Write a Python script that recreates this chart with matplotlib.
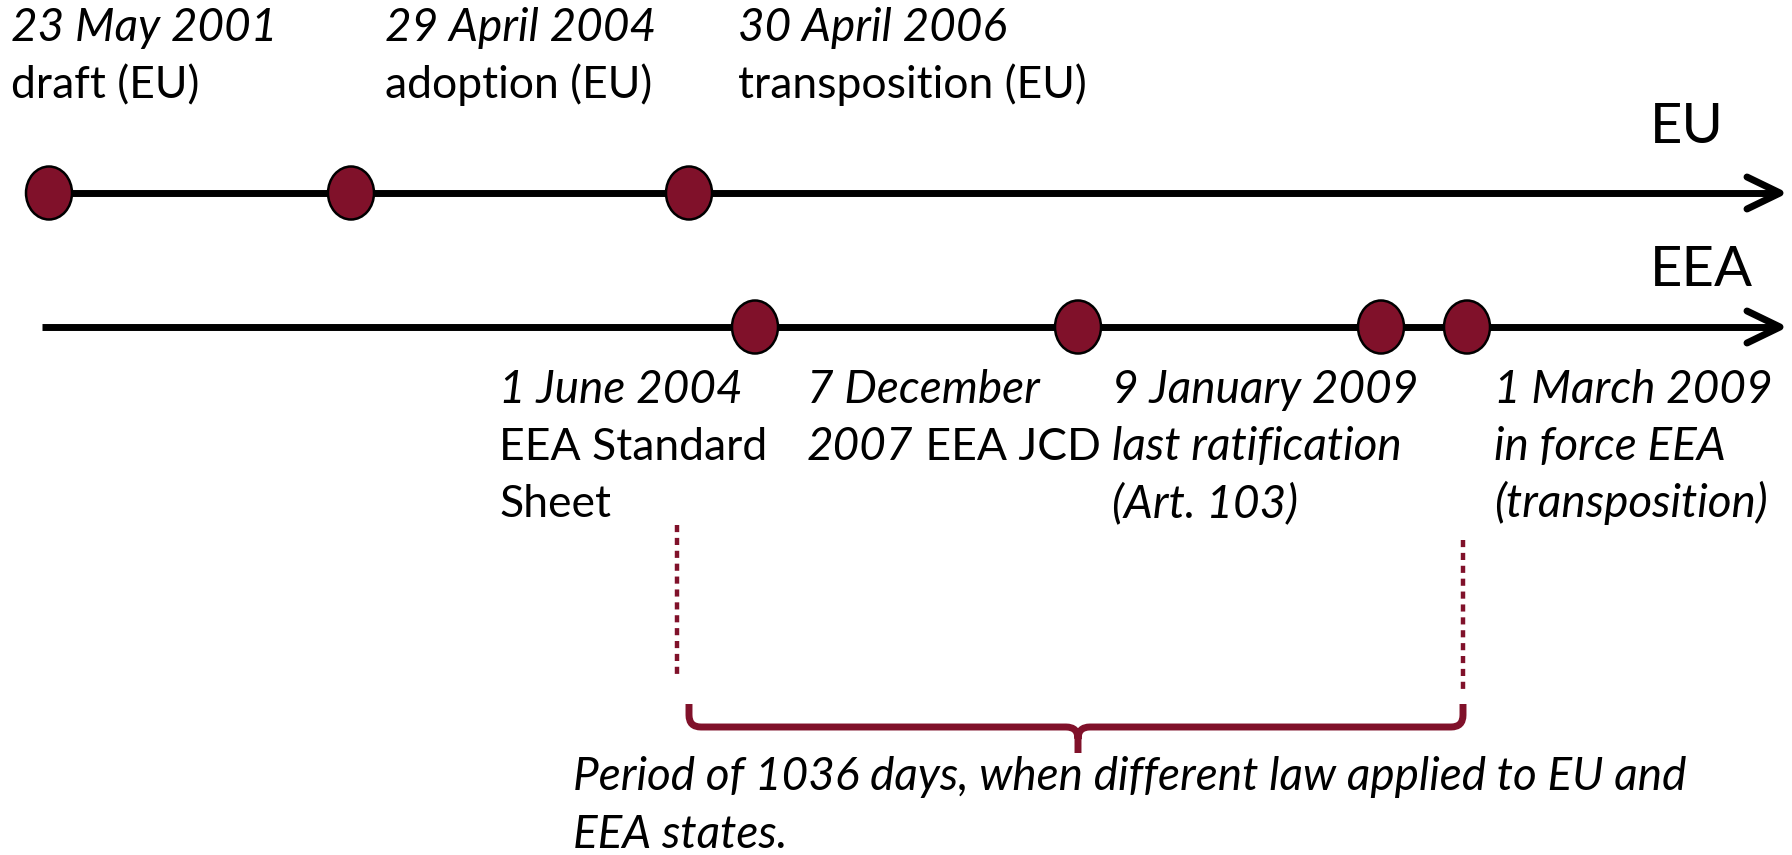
import matplotlib.pyplot as plt
from matplotlib.patches import Ellipse, PathPatch
from matplotlib.path import Path

plt.rcParams['font.family'] = ['Lato', 'DejaVu Sans']

# Schematic timeline (positions along the line, in pixel units of the figure)
eu_pos = [49, 351, 689]
eu_dates = ["23 May 2001", "29 April 2004", "30 April 2006"]
eu_notes = ["draft (EU)", "adoption (EU)", "transposition (EU)"]
eu_text_x = [11, 385, 738]

eea_pos = [755, 1078, 1381, 1467]
eea_text_x = [499, 807, 1112, 1494]
# each label: list of lines, each line a list of (text, italic)
eea_labels = [
    [[("1 June 2004", True)], [("EEA Standard", False)], [("Sheet", False)]],
    [[("7 December", True)], [("2007", True), (" EEA JCD", False)]],
    [[("9 January 2009", True)], [("last ratification", True)], [("(Art. 103)", True)]],
    [[("1 March 2009", True)], [("in force EEA", True)], [("(transposition)", True)]],
]
period_lines = ["Period of 1036 days, when different law applied to EU and",
                "EEA states."]

RED = "#80112A"
W, H = 1792, 855
EU_Y, EEA_Y = 193, 327
TIP = 1780
FS_R = 32    # upright text
FS_I = 33    # italic text

fig = plt.figure(figsize=(W / 100, H / 100), dpi=100)
ax = fig.add_axes([0, 0, 1, 1])
ax.set_xlim(0, W)
ax.set_ylim(H, 0)
ax.axis("off")


def timeline(y, x0):
    ax.plot([x0, TIP - 3], [y, y], color="black", lw=5, solid_capstyle="butt", zorder=1)
    ax.plot([TIP - 33, TIP, TIP - 33], [y - 16, y, y + 16], color="black", lw=5,
            solid_capstyle="round", solid_joinstyle="round", zorder=1)


timeline(EU_Y, 30)
timeline(EEA_Y, 42)

for x in eu_pos:
    ax.add_patch(Ellipse((x, EU_Y), 46, 53, facecolor=RED, edgecolor="black", lw=1.8, zorder=3))
for x in eea_pos:
    ax.add_patch(Ellipse((x, EEA_Y), 46, 53, facecolor=RED, edgecolor="black", lw=1.8, zorder=3))

ax.text(1650, 143, "EU", fontsize=40.5, va="baseline", ha="left")
ax.text(1650, 286, "EEA", fontsize=40.5, va="baseline", ha="left")


def fs(it):
    return FS_I if it else FS_R


# EU labels above
for x, d, n in zip(eu_text_x, eu_dates, eu_notes):
    ax.text(x, 41, d, fontsize=FS_I, style="italic", va="baseline")
    ax.text(x, 98, n, fontsize=FS_R, va="baseline")

# EEA labels below
for x, lines in zip(eea_text_x, eea_labels):
    for i, line in enumerate(lines):
        y = 403 + 57 * i
        prev = None
        for txt, it in line:
            if prev is None:
                prev = ax.text(x, y, txt, fontsize=fs(it), va="baseline",
                               style="italic" if it else "normal")
            else:
                prev = ax.annotate(txt, xy=(1, 0), xycoords=prev, va="bottom",
                                   fontsize=fs(it), style="italic" if it else "normal")

# dotted guides
ax.plot([677, 677], [525, 676], color=RED, lw=3.2, ls=(0, (1.6, 1.3)))
ax.plot([1463, 1463], [540, 690], color=RED, lw=3.2, ls=(0, (1.6, 1.3)))

# brace spanning the period
x0, x1 = eu_pos[2], eea_pos[3] - 4
xm = eea_pos[1]
yt, yh, yb = 704, 727, 753
r = 12
verts = [(x0, yt), (x0, yh - r), (x0, yh), (x0 + r, yh), (xm - r, yh), (xm, yh), (xm, yh + r),
         (xm, yb),
         (xm, yh + r), (xm, yh), (xm + r, yh), (x1 - r, yh), (x1, yh), (x1, yh - r), (x1, yt)]
codes = [Path.MOVETO, Path.LINETO, Path.CURVE3, Path.CURVE3, Path.LINETO, Path.CURVE3, Path.CURVE3,
         Path.LINETO,
         Path.MOVETO, Path.CURVE3, Path.CURVE3, Path.LINETO, Path.CURVE3, Path.CURVE3, Path.LINETO]
ax.add_patch(PathPatch(Path(verts, codes), facecolor="none", edgecolor=RED, lw=5, capstyle="butt"))

for i, line in enumerate(period_lines):
    ax.text(573, 790 + 58 * i, line, fontsize=FS_I, style="italic", va="baseline")

plt.savefig("out.png", dpi=100)
